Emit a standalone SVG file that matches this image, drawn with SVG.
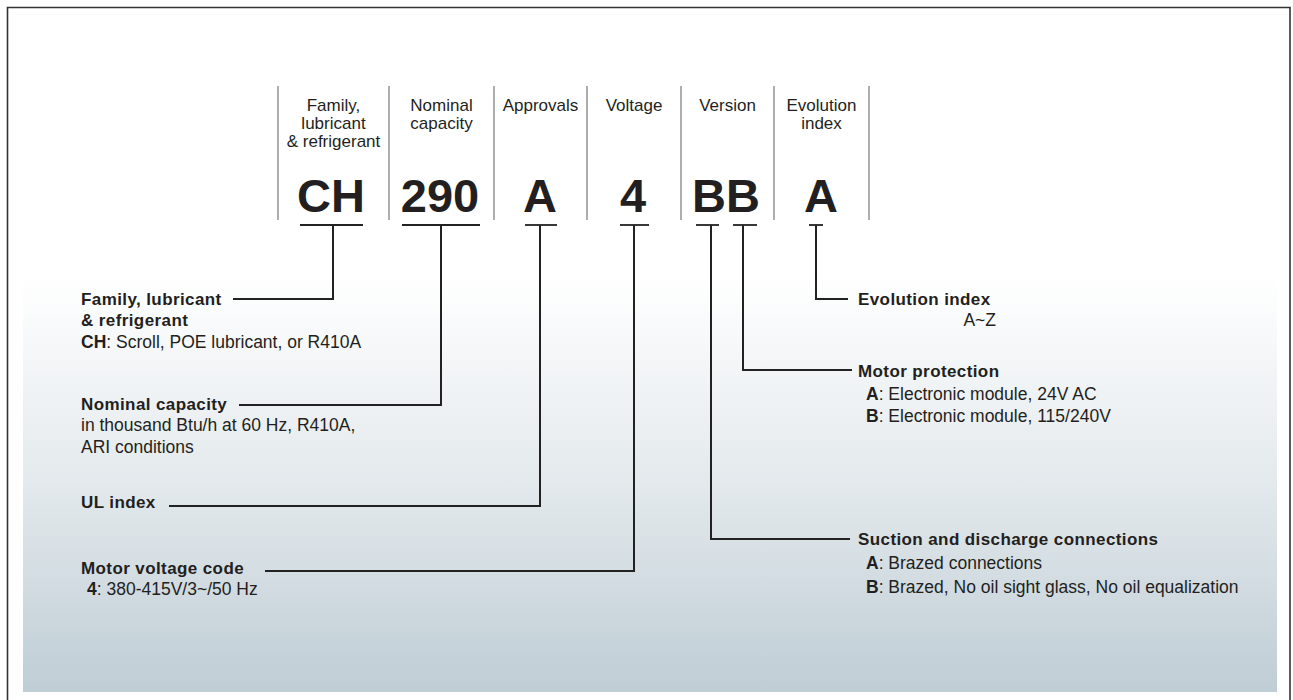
<svg xmlns="http://www.w3.org/2000/svg" width="1293" height="700" viewBox="0 0 1293 700">
<defs>
<linearGradient id="bg" x1="0" y1="0" x2="0" y2="1">
<stop offset="0" stop-color="#ffffff"/>
<stop offset="0.5" stop-color="#e3e9ec"/>
<stop offset="1" stop-color="#bfcdd5"/>
</linearGradient>
<style>
.frame{fill:none;stroke:#333;stroke-width:1.6}
.sep{stroke:#777;stroke-width:1.2}
.tick{stroke:#222;stroke-width:1.8;fill:none}
.con{stroke:#222;stroke-width:2;fill:none}
text{font-family:"Liberation Sans",Arial,sans-serif;fill:#231f20}
.hd{font-size:17px;text-anchor:middle}
.big{font-size:47px;font-weight:bold;text-anchor:middle}
.t{font-size:17px;font-weight:bold;letter-spacing:0.4px}
.d{font-size:17.5px}
.b{font-weight:bold}
</style>
</defs>
<rect x="23" y="276" width="1254" height="416" fill="url(#bg)"/>
<path class="frame" d="M7.5,700 V7.5 H1290 V700"/>
<g id="separators">
<line class="sep" x1="278" y1="86" x2="278" y2="220"/>
<line class="sep" x1="389" y1="86" x2="389" y2="220"/>
<line class="sep" x1="494" y1="86" x2="494" y2="220"/>
<line class="sep" x1="587" y1="86" x2="587" y2="220"/>
<line class="sep" x1="681" y1="86" x2="681" y2="220"/>
<line class="sep" x1="774" y1="86" x2="774" y2="220"/>
<line class="sep" x1="869" y1="86" x2="869" y2="220"/>
</g>
<g id="col-family">
<text class="hd" x="333.5" y="111">Family,</text>
<text class="hd" x="333.5" y="129">lubricant</text>
<text class="hd" x="333.5" y="147">&amp; refrigerant</text>
<text class="big" x="331" y="212">CH</text>
<line class="tick" x1="300" y1="225" x2="363" y2="225"/>
</g>
<g id="col-capacity">
<text class="hd" x="441.5" y="111">Nominal</text>
<text class="hd" x="441.5" y="129">capacity</text>
<text class="big" x="440" y="212">290</text>
<line class="tick" x1="402" y1="225" x2="480" y2="225"/>
</g>
<g id="col-approvals">
<text class="hd" x="540.5" y="111">Approvals</text>
<text class="big" x="540" y="212">A</text>
<line class="tick" x1="525" y1="225" x2="557" y2="225"/>
</g>
<g id="col-voltage">
<text class="hd" x="634" y="111">Voltage</text>
<text class="big" x="633" y="212">4</text>
<line class="tick" x1="620" y1="225" x2="649" y2="225"/>
</g>
<g id="col-version">
<text class="hd" x="727.5" y="111">Version</text>
<text class="big" x="726" y="212">BB</text>
<line class="tick" x1="696" y1="225" x2="719" y2="225"/>
<line class="tick" x1="733" y1="225" x2="757" y2="225"/>
</g>
<g id="col-evolution">
<text class="hd" x="821.5" y="111">Evolution</text>
<text class="hd" x="821.5" y="129">index</text>
<text class="big" x="821" y="212">A</text>
<line class="tick" x1="809" y1="225" x2="823" y2="225"/>
</g>
<g id="connectors">
<polyline class="con" points="333,225 333,299 233,299"/>
<polyline class="con" points="441,225 441,405 239,405"/>
<polyline class="con" points="540,225 540,506 169,506"/>
<polyline class="con" points="634,225 634,571 265,571"/>
<polyline class="con" points="816,225 816,299 848,299"/>
<polyline class="con" points="743,225 743,370 852,370"/>
<polyline class="con" points="711,225 711,539 850,539"/>
</g>
<g id="desc-family">
<text class="t" x="81" y="305">Family, lubricant</text>
<text class="t" x="81" y="326">&amp; refrigerant</text>
<text class="d" x="81" y="348"><tspan class="b">CH</tspan>: Scroll, POE lubricant, or R410A</text>
</g>
<g id="desc-capacity">
<text class="t" x="81" y="410">Nominal capacity</text>
<text class="d" x="81" y="431">in thousand Btu/h at 60 Hz, R410A,</text>
<text class="d" x="81" y="453">ARI conditions</text>
</g>
<g id="desc-ul">
<text class="t" x="81" y="508">UL index</text>
</g>
<g id="desc-voltage">
<text class="t" x="81" y="574">Motor voltage code</text>
<text class="d" x="87" y="595"><tspan class="b">4</tspan>: 380-415V/3~/50 Hz</text>
</g>
<g id="desc-evolution">
<text class="t" x="858" y="305">Evolution index</text>
<text class="d" x="996" y="326" text-anchor="end">A~Z</text>
</g>
<g id="desc-protection">
<text class="t" x="858" y="377">Motor protection</text>
<text class="d" x="866" y="400"><tspan class="b">A</tspan>: Electronic module, 24V AC</text>
<text class="d" x="866" y="422"><tspan class="b">B</tspan>: Electronic module, 115/240V</text>
</g>
<g id="desc-connections">
<text class="t" x="858" y="545">Suction and discharge connections</text>
<text class="d" x="866" y="569"><tspan class="b">A</tspan>: Brazed connections</text>
<text class="d" x="866" y="593"><tspan class="b">B</tspan>: Brazed, No oil sight glass, No oil equalization</text>
</g>
</svg>
